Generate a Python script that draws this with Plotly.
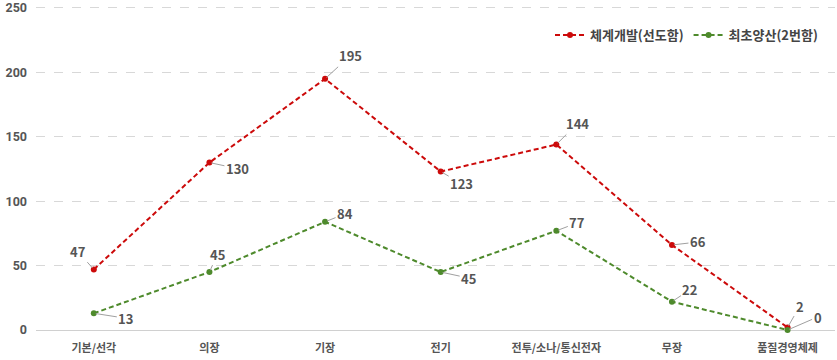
import plotly.graph_objects as go

categories = ["기본/선각", "의장", "기장", "전기", "전투/소나/통신전자", "무장", "품질경영체제"]
series_names = ["체계개발(선도함)", "최초양산(2번함)"]
dev_values = [47, 130, 195, 123, 144, 66, 2]
prod_values = [13, 45, 84, 45, 77, 22, 0]
y_ticks = [0, 50, 100, 150, 200, 250]

red = "#cc0a0a"
green = "#4e8a2c"
font_family = "Noto Sans CJK KR"

# label offsets (pixels) for the leader-line annotations
dev_offsets = [(-16, -18), (28, 6), (25, -23), (21, 12), (21, -21), (26, -3), (12, -21)]
prod_offsets = [(32, 5), (8, -18), (20, -8), (28, 6), (21, -8), (18, -12), (30, -13)]

fig = go.Figure()
for name, vals, color in [(series_names[0], dev_values, red), (series_names[1], prod_values, green)]:
    fig.add_trace(go.Scatter(
        x=list(range(len(categories))), y=vals, name=name, mode="lines+markers",
        line=dict(color=color, width=2, dash="5px,3px"),
        marker=dict(color=color, size=6),
        cliponaxis=False,
    ))

annotations = []
for vals, offs in [(dev_values, dev_offsets), (prod_values, prod_offsets)]:
    for i, (v, (ax, ay)) in enumerate(zip(vals, offs)):
        annotations.append(dict(
            x=i, y=v, xref="x", yref="y", text=str(v), showarrow=True,
            arrowhead=0, arrowwidth=1, arrowcolor="#a0a0a0", ax=ax, ay=ay,
            standoff=2, startstandoff=0,
            font=dict(family=font_family, size=13, color="#555555", weight="bold"),
        ))

fig.update_layout(
    width=837, height=360,
    margin=dict(l=36, r=2, t=4, b=30, autoexpand=False),
    paper_bgcolor="white", plot_bgcolor="white",
    font=dict(family=font_family, color="#555555"),
    showlegend=True,
    legend=dict(orientation="h", x=0.985, xanchor="right", y=0.905, yanchor="middle",
                font=dict(family=font_family, size=13, color="#444444", weight="bold"),
                bgcolor="rgba(0,0,0,0)", itemwidth=30),
    annotations=annotations,
    xaxis=dict(
        tickmode="array", tickvals=list(range(len(categories))), ticktext=categories,
        range=[-0.5, 6.41], showgrid=False, zeroline=False, showline=False,
        ticks="", automargin=False, ticklabelstandoff=10,
        tickfont=dict(family=font_family, size=11, color="#555555", weight="bold"),
    ),
    yaxis=dict(
        range=[0, 253.1], tickvals=y_ticks, showgrid=True, gridcolor="#d8d8d8",
        griddash="dash", gridwidth=1, zeroline=True, zerolinecolor="#d0d0d0", zerolinewidth=1,
        ticks="", ticklabelstandoff=8, automargin=False, ticklabeloverflow="allow",
        tickfont=dict(family="Roboto", size=12.5, color="#555555", weight="bold"),
    ),
)

fig.write_html("out.html", config={"displayModeBar": False},
               post_script="document.body.style.margin='0';")
